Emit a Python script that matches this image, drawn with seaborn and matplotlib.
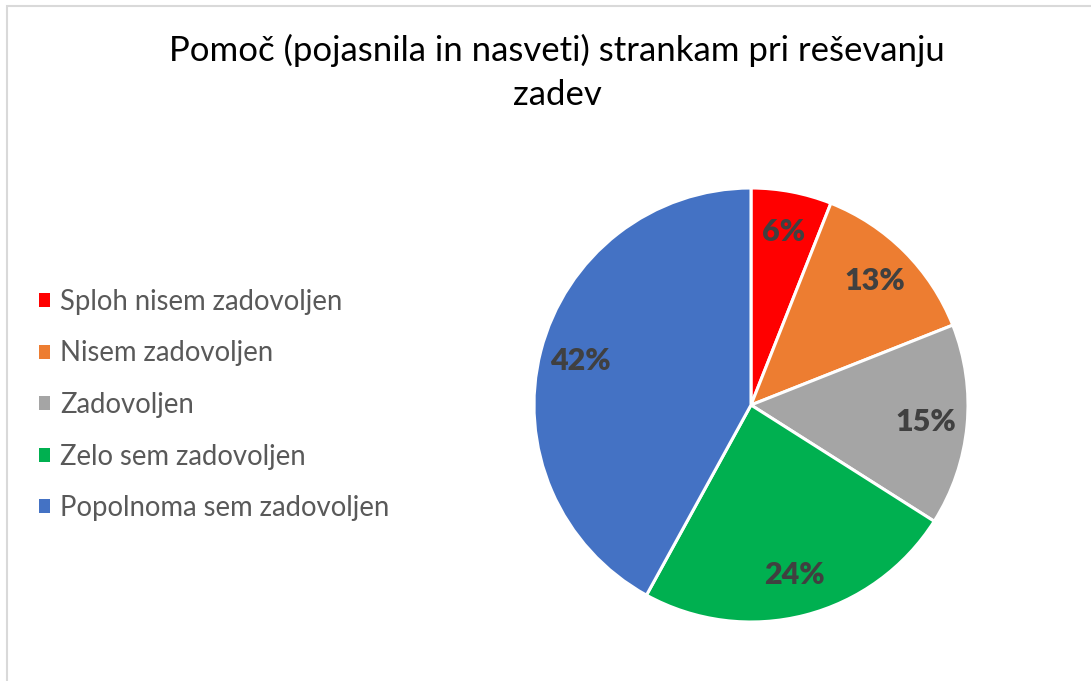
import matplotlib
matplotlib.use("Agg")
import matplotlib.pyplot as plt
import matplotlib.patches as mpatches
import seaborn as sns

# Data
categories = ['Sploh nisem zadovoljen', 'Nisem zadovoljen', 'Zadovoljen',
              'Zelo sem zadovoljen', 'Popolnoma sem zadovoljen']
shares = [6, 13, 15, 24, 42]
colors = ['#FF0000', '#ED7D31', '#A5A5A5', '#00B050', '#4472C4']
title = 'Pomoč (pojasnila in nasveti) strankam pri reševanju\nzadev'

sns.set_theme(style="white")
plt.rcParams['font.family'] = ['Lato', 'DejaVu Sans']

W, H = 1091, 681
fig = plt.figure(figsize=(W / 100, H / 100), dpi=100)
fig.patch.set_facecolor('white')

# chart area border (light gray, running off right/bottom edges)
fig.patches.append(mpatches.Rectangle((6.5 / W, -0.1), 1.2, 1 - 6.5 / H + 0.1,
                                      transform=fig.transFigure, fill=False,
                                      edgecolor='#D9D9D9', linewidth=1.5))

# Pie
cx, cy, r = 751, 405, 217
ax = fig.add_axes([(cx - r) / W, (H - cy - r) / H, 2 * r / W, 2 * r / H])
wedges, texts, autotexts = ax.pie(
    shares, colors=colors, startangle=90, counterclock=False,
    autopct='%1.0f%%', pctdistance=0.81,
    wedgeprops=dict(edgecolor='white', linewidth=2.2),
    textprops=dict(color='#404040', fontsize=22, fontweight='heavy'),
    radius=1)
ax.set_xlim(-1, 1)
ax.set_ylim(-1, 1)
ax.set_aspect('equal')
ax.axis('off')

# Title
fig.text(557 / W, 1 - 72.5 / H, title, ha='center', va='center',
         fontsize=25, color='black', linespacing=1.45)

# Legend
handles = [mpatches.Patch(facecolor=c, edgecolor='none') for c in colors]
fig.legend(handles, categories, loc='center left',
           bbox_to_anchor=(39 / W, 1 - 405 / H), frameon=False,
           fontsize=19.8, labelcolor='#595959', handlelength=0.4,
           handleheight=0.4, handletextpad=0.36, labelspacing=0.93,
           borderpad=0, borderaxespad=0)

fig.savefig('out.png', dpi=100)
